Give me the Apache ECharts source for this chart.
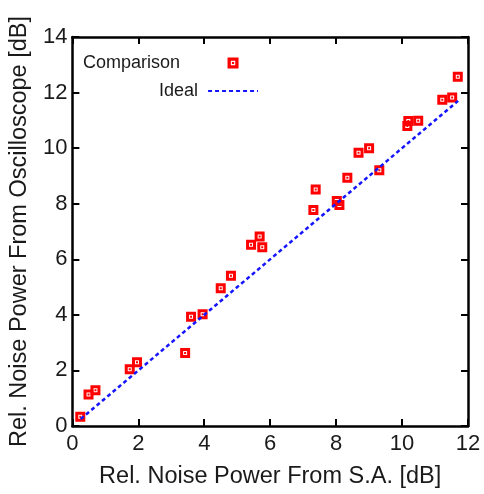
<!DOCTYPE html>
<html>
<head>
<meta charset="utf-8">
<script src="https://cdn.jsdelivr.net/npm/echarts@6/dist/echarts.min.js"></script>
<style>
  html, body { margin: 0; padding: 0; background: #fff; }
  #chart { width: 484px; height: 494px; }
</style>
</head>
<body>
<div id="chart"></div>
<script>
// measured points: [S.A. dB, oscilloscope dB]
const comparisonX = [0.24, 0.49, 0.70, 1.74, 1.96, 3.42, 3.60, 3.95, 4.50, 4.81, 5.42, 5.68, 5.76,
  7.31, 7.38, 8.02, 8.10, 8.34, 8.68, 9.00, 9.31, 10.16, 10.19, 10.49, 11.22, 11.52, 11.69];
const comparisonY = [0.33, 1.13, 1.29, 2.04, 2.29, 2.63, 3.93, 4.02, 4.96, 5.41, 6.52, 6.82, 6.43,
  7.77, 8.51, 8.10, 7.95, 8.93, 9.83, 10.00, 9.20, 10.80, 10.98, 10.99, 11.74, 11.82, 12.57];
const idealX = [0.25, 11.7];
const idealY = [0.25, 11.7];
const xTicks = [0, 2, 4, 6, 8, 10, 12];
const yTicks = [0, 2, 4, 6, 8, 10, 12, 14];

const font = "'Liberation Sans', Arial, sans-serif";
const ink = "#1a1a1a";
// red square with a small white ring inside
const markerPath = "path://M0 0H10V10H0Z M3 3V7H7V3Z M4 4H6V6H4Z";

const chart = echarts.init(document.getElementById("chart"));

const axisLine = { show: true, onZero: false, lineStyle: { color: "#000", width: 2.5 } };
const axisTick = { show: true, inside: true, length: 7, lineStyle: { color: "#000", width: 2 } };

const mainAxis = (ticks, name, gap, margin) => ({
  type: "value",
  min: ticks[0],
  max: ticks[ticks.length - 1],
  interval: ticks[1] - ticks[0],
  name: name,
  nameLocation: "middle",
  nameGap: gap,
  nameTextStyle: { fontFamily: font, fontSize: 23.5, color: ink },
  axisLine: axisLine,
  axisTick: axisTick,
  axisLabel: { fontFamily: font, fontSize: 22, color: ink, margin: margin },
  splitLine: { show: false }
});

const mirrorAxis = (ticks, pos) => ({
  type: "value",
  position: pos,
  min: ticks[0],
  max: ticks[ticks.length - 1],
  interval: ticks[1] - ticks[0],
  axisLine: axisLine,
  axisTick: axisTick,
  axisLabel: { show: false },
  splitLine: { show: false }
});

chart.setOption({
  animation: false,
  backgroundColor: "#fff",
  grid: { left: 72, right: 16, top: 37, bottom: 65 },
  legend: {
    orient: "vertical",
    left: 83,
    top: 54,
    padding: 0,
    align: "right",
    itemWidth: 50,
    itemHeight: 11,
    itemGap: 10,
    textStyle: { fontFamily: font, fontSize: 18, color: ink },
    data: [
      { name: "Comparison", textStyle: { padding: [0, 23, 0, 0] } },
      { name: "Ideal", textStyle: { padding: [0, 5, 0, 0] }, itemStyle: { color: "rgba(0,0,0,0)" } }
    ]
  },
  xAxis: [
    mainAxis(xTicks, "Rel. Noise Power From S.A. [dB]", 39, 7),
    mirrorAxis(xTicks, "top")
  ],
  yAxis: [
    mainAxis(yTicks, "Rel. Noise Power From Oscilloscope [dB]", 38, 5),
    mirrorAxis(yTicks, "right")
  ],
  series: [
    {
      name: "Ideal",
      type: "line",
      symbol: "none",
      lineStyle: { color: "#1515ff", width: 2.5, type: [4, 3] },
      itemStyle: { color: "#1515ff" },
      data: idealX.map((x, i) => [x, idealY[i]]),
      z: 3
    },
    {
      name: "Comparison",
      type: "scatter",
      symbol: markerPath,
      symbolSize: 10,
      itemStyle: { color: "#ff0000", opacity: 1 },
      data: comparisonX.map((x, i) => [x, comparisonY[i]]),
      z: 2
    }
  ]
});
</script>
</body>
</html>
